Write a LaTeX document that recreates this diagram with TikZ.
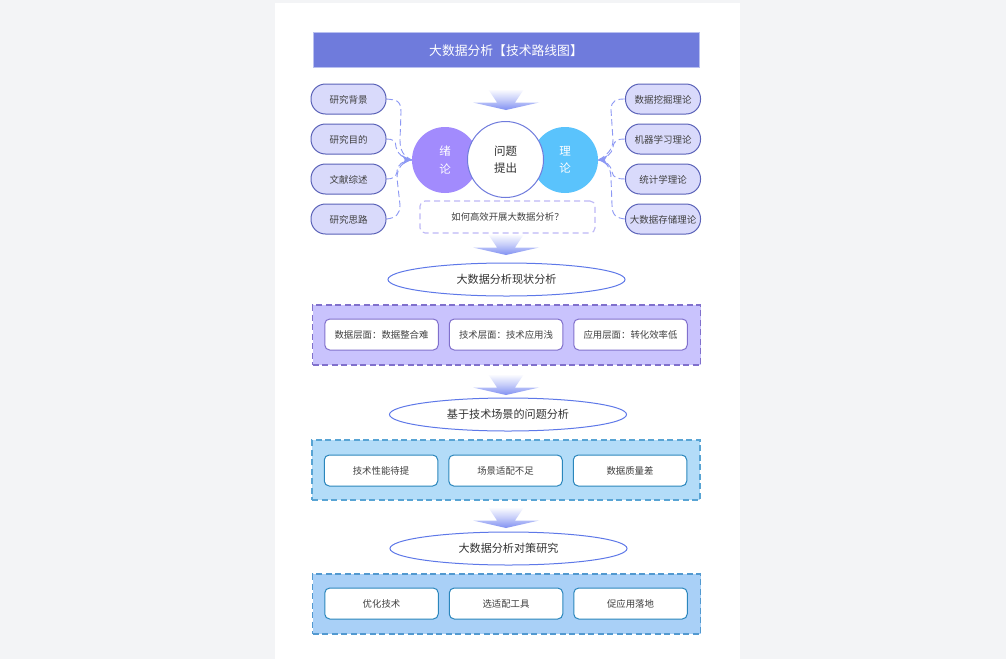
\documentclass[tikz,border=0pt]{standalone}
\usepackage{fontspec}
\setmainfont{Noto Sans CJK SC}
\usetikzlibrary{shapes.geometric,arrows.meta}
\definecolor{pagebg}{HTML}{F3F4F6}
\definecolor{titlefill}{HTML}{6F7BDC}
\definecolor{titleline}{HTML}{B9C0F0}
\definecolor{pillfill}{HTML}{D9DAFB}
\definecolor{pillline}{HTML}{5A62B8}
\definecolor{txt}{HTML}{404040}
\definecolor{dashc}{HTML}{8C98F4}
\definecolor{purplec}{HTML}{A28BFD}
\definecolor{bluec}{HTML}{5AC3FC}
\definecolor{centerline}{HTML}{6F7BDC}
\definecolor{qline}{HTML}{BDB8F6}
\definecolor{ellline}{HTML}{5E78E8}
\definecolor{panelA}{HTML}{C9C3FD}
\definecolor{panelAl}{HTML}{8070CC}
\definecolor{panelB}{HTML}{B3DCF8}
\definecolor{panelBl}{HTML}{58A4D4}
\definecolor{panelC}{HTML}{A9D0F7}
\definecolor{panelCl}{HTML}{5299D0}
\definecolor{boxB}{HTML}{2A86BC}
\definecolor{arrowc}{HTML}{8090F2}
\tikzset{
  x=1pt,y=-1pt,
  pill/.style={draw=pillline,line width=1pt,fill=pillfill,rounded corners=14.5pt,minimum width=75pt,minimum height=30pt,inner sep=0pt,text=txt,text height=9.5pt,text depth=1pt,font=\fontsize{9.5}{11}\selectfont},
  conn/.style={draw=dashc,line width=0.9pt,dash pattern=on 6.5pt off 3.5pt},
  bigc/.style={circle,minimum size=66pt,inner sep=0pt,text=white,align=center,font=\fontsize{11.5}{17.5}\selectfont},
  ell/.style={ellipse,draw=ellline,line width=1pt,fill=white,minimum width=237pt,minimum height=33pt,inner sep=0pt,text=txt!80!black,font=\fontsize{11.1}{13}\selectfont},
  panel/.style={rectangle,line width=1.05pt,minimum width=388pt,minimum height=60pt,inner sep=0pt,dash pattern=on 6pt off 3.5pt},
  inbox/.style={rectangle,rounded corners=5pt,fill=white,line width=1pt,minimum width=113.5pt,minimum height=31pt,inner sep=0pt,text=txt,font=\fontsize{9.4}{11}\selectfont},
  flow/.pic={\shade[top color=white,bottom color=arrowc,middle color=arrowc!45!white]
    (-18,0) -- (18,0) -- (9,13.5) -- (33,13.5) -- (0,21) -- (-33,13.5) -- (-9,13.5) -- cycle;}
}
\begin{document}
\begin{tikzpicture}
\useasboundingbox (0,0) rectangle (1006,659);
\fill[pagebg] (0,0) rectangle (1006,659);
\fill[white] (275,3) rectangle (740,659);
% title
\node[draw=titleline,line width=0.8pt,fill=titlefill,minimum width=386pt,minimum height=35pt,inner sep=0pt,text=white,text height=13pt,text depth=1.5pt,font=\fontsize{12.8}{15}\selectfont] (title) at (506,49.5) {大数据分析【技术路线图】};
% flow arrows
\pic at (506,89) {flow};
\pic at (506,234) {flow};
\pic at (506,374) {flow};
\pic at (506,507) {flow};
% pills
\node[pill] (l1) at (348.5,99) {研究背景};
\node[pill] (l2) at (348.5,139) {研究目的};
\node[pill] (l3) at (348.5,179) {文献综述};
\node[pill] (l4) at (348.5,219) {研究思路};
\node[pill] (r1) at (663,99) {数据挖掘理论};
\node[pill] (r2) at (663,139) {机器学习理论};
\node[pill] (r3) at (663,179) {统计学理论};
\node[pill] (r4) at (663,219) {大数据存储理论};
% circles
\node[bigc,fill=purplec] (cl) at (445,160) {绪\\论};
\node[bigc,fill=bluec] (cr) at (565,160) {理\\论};
\node[circle,draw=centerline,line width=1pt,fill=white,minimum size=76pt,inner sep=0pt,align=center,text=txt!80!black,font=\fontsize{11.5}{17.5}\selectfont] (cc) at (505.5,159.5) {问题\\提出};
% connectors
\coordinate (lt) at (cl.west);
\coordinate (rt) at (cr.east);
\draw[conn] (l1.east) .. controls (396,100) and (401,100) .. (401,112) -- (400,140) .. controls (400,150) and (403,156) .. (lt);
\draw[conn] (l2.east) .. controls (393,139) and (396,141) .. (396,147) .. controls (397,154) and (403,158) .. (lt);
\draw[conn] (l3.east) .. controls (393,179) and (396,177) .. (397,172) .. controls (397,164) and (403,161) .. (lt);
\draw[conn] (l4.east) .. controls (396,218) and (400,214) .. (400,205) -- (397,178) .. controls (397,168) and (403,161) .. (lt);
\draw[conn] (r1.west) .. controls (617,99) and (611,100) .. (611,110) -- (613,140) .. controls (613,150) and (606,156) .. (rt);
\draw[conn] (r2.west) .. controls (618,139) and (614,140) .. (613,147) .. controls (612,154) and (606,158) .. (rt);
\draw[conn] (r3.west) .. controls (618,179) and (613,178) .. (612,172) .. controls (611,165) and (606,161) .. (rt);
\draw[conn] (r4.west) .. controls (617,218) and (612,216) .. (612,205) -- (611,178) .. controls (611,168) and (606,161) .. (rt);
\fill[dashc] (lt) ++(-1,0) -- ++(-9,-5) -- ++(3,5) -- ++(-3,5) -- cycle;
\fill[dashc] (rt) ++(0.5,0) -- ++(9,-5) -- ++(-3,5) -- ++(3,5) -- cycle;
% question
\node[draw=qline,line width=1.1pt,dash pattern=on 6pt off 4pt,rounded corners=5pt,minimum width=175pt,minimum height=32pt,inner sep=0pt,text=txt,font=\fontsize{9.35}{11}\selectfont] (q) at (507.5,217) {如何高效开展大数据分析？};
% ellipses
\node[ell] (e1) at (506.5,279.5) {大数据分析现状分析};
\node[ell] (e2) at (508,414.5) {基于技术场景的问题分析};
\node[ell] (e3) at (508.5,548.5) {大数据分析对策研究};
% panels
\node[panel,draw=panelAl,fill=panelA] (p1) at (506.5,335) {};
\node[panel,draw=panelBl,fill=panelB] (p2) at (506,470) {};
\node[panel,draw=panelCl,fill=panelC] (p3) at (506.5,604) {};
% boxes
\node[inbox,draw=panelAl] (a1) at (381.5,334.5) {数据层面：数据整合难};
\node[inbox,draw=panelAl] (a2) at (506,334.5) {技术层面：技术应用浅};
\node[inbox,draw=panelAl] (a3) at (630.5,334.5) {应用层面：转化效率低};
\node[inbox,draw=boxB] (b1) at (381,470.5) {技术性能待提};
\node[inbox,draw=boxB] (b2) at (505.5,470.5) {场景适配不足};
\node[inbox,draw=boxB] (b3) at (630,470.5) {数据质量差};
\node[inbox,draw=boxB] (c1) at (381.5,603.5) {优化技术};
\node[inbox,draw=boxB] (c2) at (506,603.5) {选适配工具};
\node[inbox,draw=boxB] (c3) at (630.5,603.5) {促应用落地};
\end{tikzpicture}
\end{document}
